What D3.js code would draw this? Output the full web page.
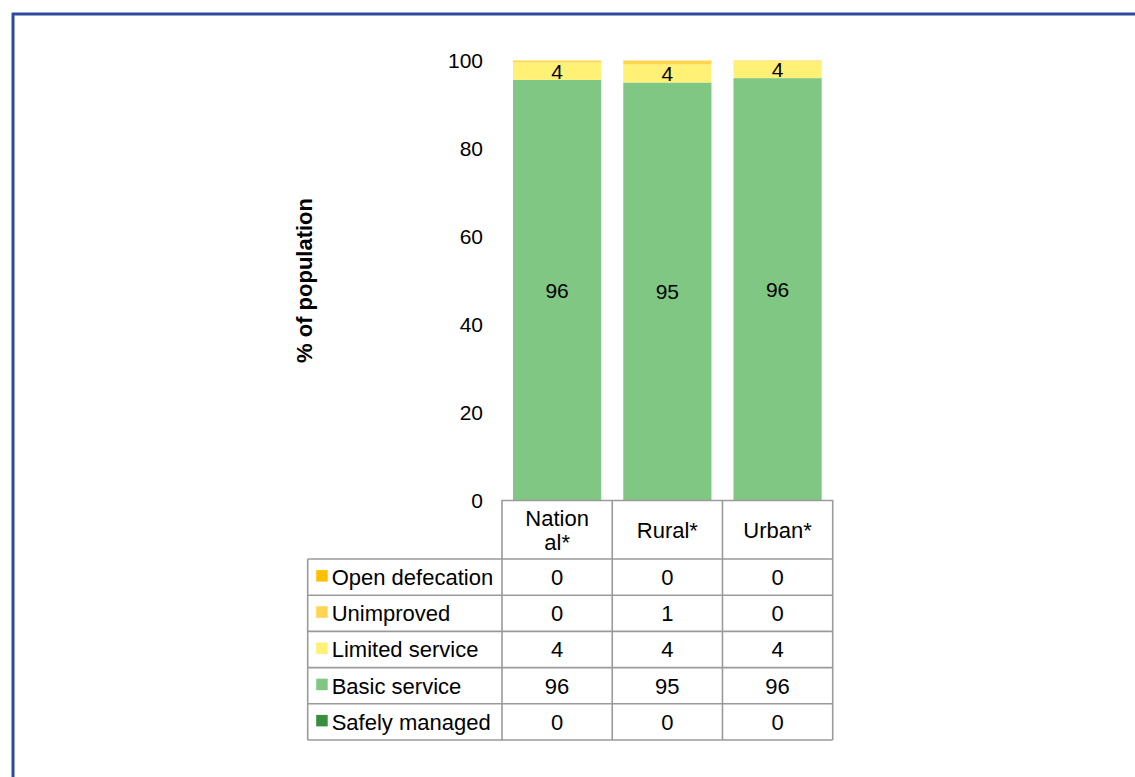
<!DOCTYPE html>
<html>
<head>
<meta charset="utf-8">
<script src="https://cdn.jsdelivr.net/npm/d3@7"></script>
<style>
  body { margin: 0; background: #fff; }
  svg { display: block; font-family: "Liberation Sans", Arial, sans-serif; }
</style>
</head>
<body>
<svg></svg>
<script>
/* chart data */
var categories = ["National*", "Rural*", "Urban*"];
var headerLines = [["Nation", "al*"], ["Rural*"], ["Urban*"]];
var seriesNames = ["Open defecation", "Unimproved", "Limited service", "Basic service", "Safely managed"];
var safelyManaged = [0, 0, 0];
var basicService = [95.6, 95.0, 96.0];
var limitedService = [4.0, 4.1, 3.8];
var unimproved = [0.4, 0.9, 0.2];
var openDefecation = [0, 0, 0];
var yTicks = [0, 20, 40, 60, 80, 100];

var colors = {
  "Open defecation": "#ffc000",
  "Unimproved": "#ffd54f",
  "Limited service": "#fff176",
  "Basic service": "#81c784",
  "Safely managed": "#388e3c"
};

var width = 1135;
var height = 777;
var plotLeft = 502;
var plotRight = 832.7;
var plotTop = 60.5;
var plotBottom = 500.5;
var tableLeft = 307.7;
var headerBottom = 559;
var rowHeight = 36.2;

var svg = d3.select("svg").attr("width", width).attr("height", height);

/* build rows: stacking order from bottom */
var stackOrder = ["Safely managed", "Basic service", "Limited service", "Unimproved", "Open defecation"];
var valuesByName = {
  "Safely managed": safelyManaged,
  "Basic service": basicService,
  "Limited service": limitedService,
  "Unimproved": unimproved,
  "Open defecation": openDefecation
};
var rows = categories.map(function (c, i) {
  var r = { cat: c };
  stackOrder.forEach(function (n) { r[n] = valuesByName[n][i]; });
  return r;
});

var xScale = d3.scaleBand()
  .domain(categories)
  .range([plotLeft, plotRight])
  .paddingInner(0.2)
  .paddingOuter(0.1);

var colScale = d3.scaleBand()
  .domain(categories)
  .range([plotLeft, plotRight]);

var yScale = d3.scaleLinear().domain([0, 100]).range([plotBottom, plotTop]);

/* frame lines on top and left */
svg.append("line").attr("x1", 12).attr("y1", 14).attr("x2", width).attr("y2", 14)
  .attr("stroke", "#2e4a9b").attr("stroke-width", 3);
svg.append("line").attr("x1", 13).attr("y1", 13).attr("x2", 13).attr("y2", height)
  .attr("stroke", "#2e4a9b").attr("stroke-width", 3);

/* stacked bars */
var stacked = d3.stack().keys(stackOrder)(rows);

var layers = svg.append("g").selectAll("g")
  .data(stacked)
  .enter()
  .append("g")
  .attr("fill", function (d) { return colors[d.key]; });

layers.selectAll("rect")
  .data(function (d) { return d; })
  .enter()
  .append("rect")
  .attr("x", function (d) { return xScale(d.data.cat); })
  .attr("width", xScale.bandwidth())
  .attr("y", function (d) { return yScale(d[1]); })
  .attr("height", function (d) { return yScale(d[0]) - yScale(d[1]); });

/* data labels for the big segments */
layers.selectAll("text")
  .data(function (d) { return d.filter(function (p) { return p[1] - p[0] >= 2; }); })
  .enter()
  .append("text")
  .attr("x", function (d) { return xScale(d.data.cat) + xScale.bandwidth() / 2; })
  .attr("y", function (d) { return (yScale(d[0]) + yScale(d[1])) / 2; })
  .attr("dy", "0.36em")
  .attr("text-anchor", "middle")
  .attr("fill", "#000")
  .style("font-size", "21px")
  .text(function (d) { return Math.round(d[1] - d[0]); });

/* y axis, labels only */
var yAxis = d3.axisLeft(yScale).tickValues(yTicks).tickSize(0).tickPadding(19);
var yg = svg.append("g")
  .attr("transform", "translate(" + plotLeft + ",0)")
  .call(yAxis);
yg.select(".domain").remove();
yg.selectAll("text")
  .style("font-size", "21px")
  .style("font-family", "Liberation Sans, Arial, sans-serif")
  .attr("fill", "#000");

svg.append("text")
  .attr("transform", "translate(304," + (plotTop + plotBottom) / 2 + ") rotate(-90)")
  .attr("text-anchor", "middle")
  .attr("dy", "0.36em")
  .style("font-size", "22px")
  .style("font-weight", "bold")
  .text("% of population");

/* data table */
var lineColor = "#9a9a9a";
var table = svg.append("g");
var tableBottom = headerBottom + rowHeight * seriesNames.length;

// header cells
table.append("path")
  .attr("d", "M" + plotLeft + "," + tableBottom + "V" + plotBottom + "H" + plotRight + "V" + tableBottom)
  .attr("fill", "none").attr("stroke", lineColor).attr("stroke-width", 1.6);

categories.forEach(function (c, i) {
  var x0 = colScale(c);
  if (i > 0) {
    table.append("line").attr("x1", x0).attr("x2", x0)
      .attr("y1", plotBottom).attr("y2", tableBottom)
      .attr("stroke", lineColor).attr("stroke-width", 1.6);
  }
  var lines = headerLines[i];
  var cy = (plotBottom + headerBottom) / 2;
  lines.forEach(function (t, j) {
    table.append("text")
      .attr("x", x0 + colScale.bandwidth() / 2)
      .attr("y", cy + (j - (lines.length - 1) / 2) * 24)
      .attr("dy", "0.36em")
      .attr("text-anchor", "middle")
      .style("font-size", "22px")
      .text(t);
  });
});

// horizontal row lines
d3.range(seriesNames.length + 1).forEach(function (k) {
  var y = headerBottom + k * rowHeight;
  table.append("line")
    .attr("x1", tableLeft).attr("x2", plotRight)
    .attr("y1", y).attr("y2", y)
    .attr("stroke", lineColor).attr("stroke-width", 1.6);
});
table.append("line")
  .attr("x1", tableLeft).attr("x2", tableLeft)
  .attr("y1", headerBottom).attr("y2", tableBottom)
  .attr("stroke", lineColor).attr("stroke-width", 1.6);

// rows: legend key + values
seriesNames.forEach(function (name, r) {
  var cy = headerBottom + r * rowHeight + rowHeight / 2;
  table.append("rect")
    .attr("x", tableLeft + 8.5)
    .attr("y", cy - 7)
    .attr("width", 11.5)
    .attr("height", 11.5)
    .attr("fill", colors[name]);
  table.append("text")
    .attr("x", tableLeft + 24)
    .attr("y", cy)
    .attr("dy", "0.36em")
    .style("font-size", "22px")
    .text(name);
  valuesByName[name].forEach(function (v, i) {
    table.append("text")
      .attr("x", colScale(categories[i]) + colScale.bandwidth() / 2)
      .attr("y", cy)
      .attr("dy", "0.36em")
      .attr("text-anchor", "middle")
      .style("font-size", "22px")
      .text(Math.round(v));
  });
});
</script>
</body>
</html>
